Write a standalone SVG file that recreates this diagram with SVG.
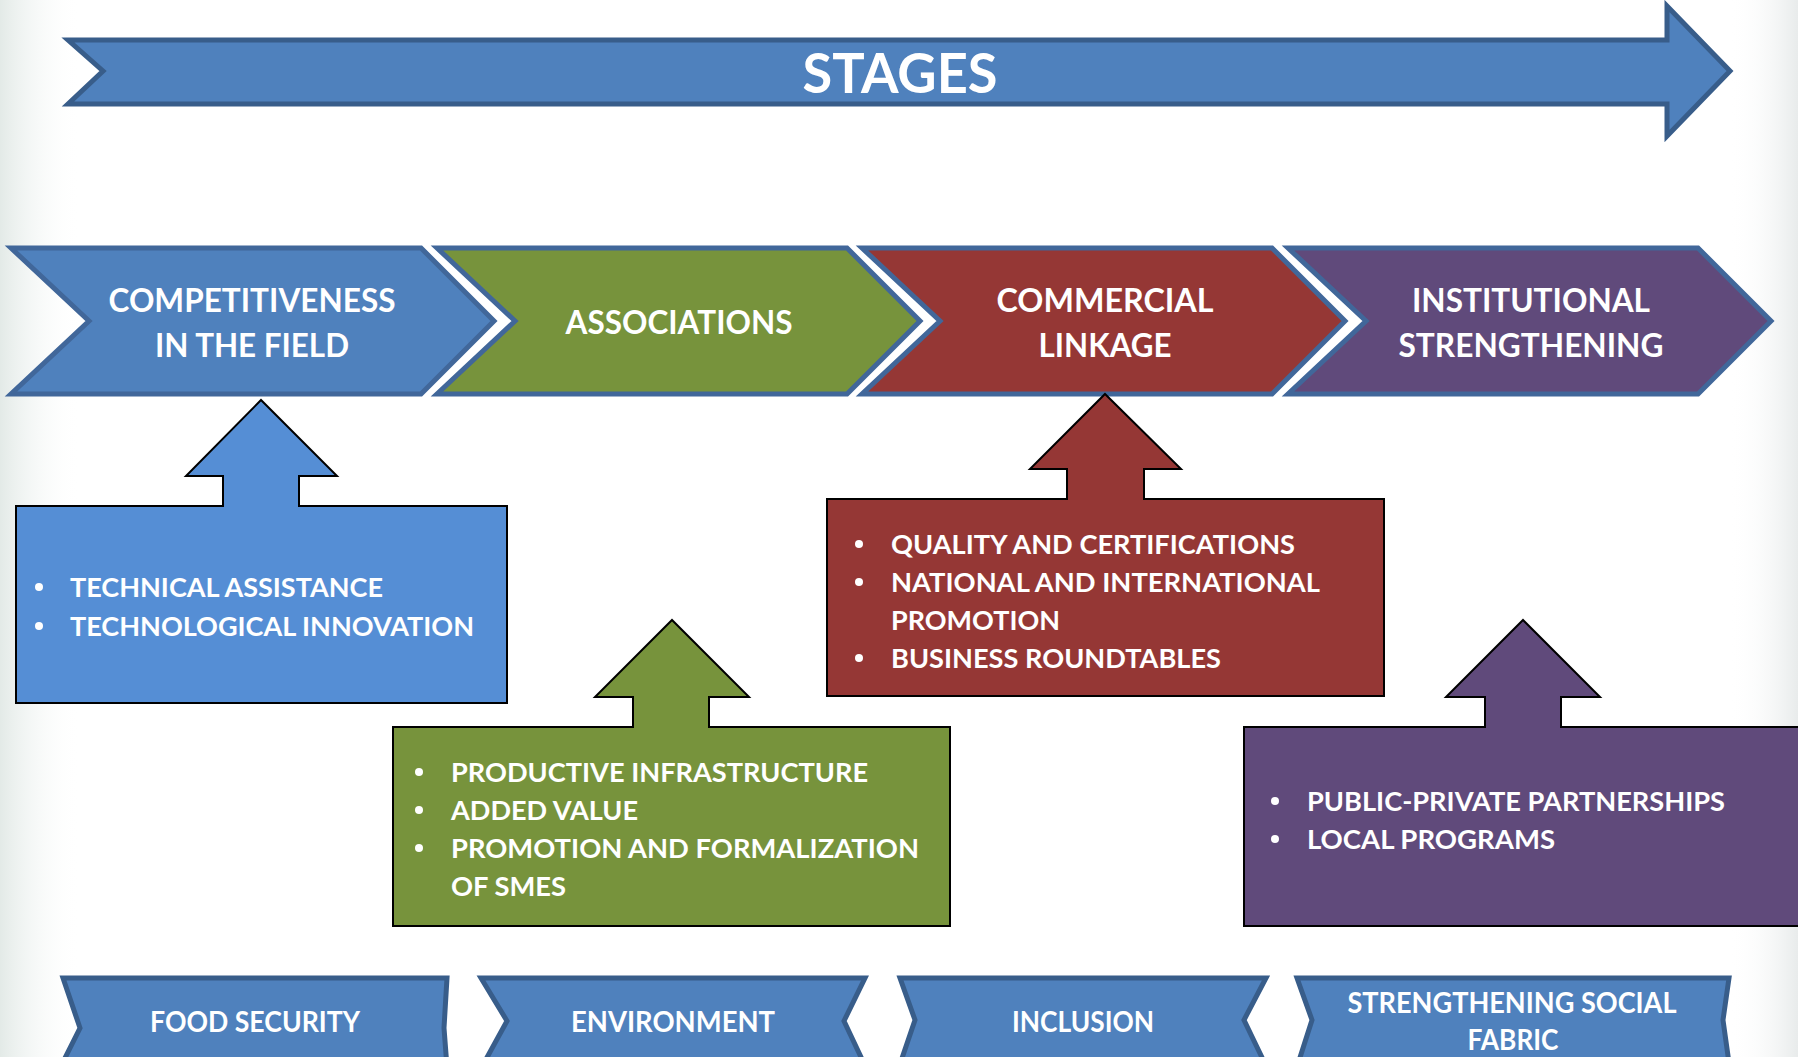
<svg xmlns="http://www.w3.org/2000/svg" width="1798" height="1057" viewBox="0 0 1798 1057">
  <defs>
    <linearGradient id="edgeLeft" x1="0" y1="0" x2="1" y2="0">
      <stop offset="0" stop-color="#e3eae7"/>
      <stop offset="1" stop-color="#ffffff" stop-opacity="0"/>
    </linearGradient>
    <linearGradient id="edgeRight" x1="0" y1="0" x2="1" y2="0">
      <stop offset="0" stop-color="#ffffff" stop-opacity="0"/>
      <stop offset="1" stop-color="#e8ebeb"/>
    </linearGradient>
    <style>
      text { font-family: Lato, "Liberation Sans", sans-serif; font-weight: bold; fill: #ffffff; }
      .title { font-size: 56px; text-anchor: middle; }
      .stage { font-size: 32px; text-anchor: middle; }
      .item { font-size: 27px; }
      .theme { font-size: 29px; text-anchor: middle; }
      .banner { fill: #4f81bd; stroke: #385d8a; stroke-width: 5; stroke-linejoin: miter; }
      .chev { stroke: #41679a; stroke-width: 5; stroke-linejoin: miter; }
      .callout { stroke: #000000; stroke-width: 2; stroke-linejoin: miter; }
      .bullet { fill: #ffffff; }
      .blue { fill: #4f81bd; }
      .green { fill: #77933c; }
      .red { fill: #953735; }
      .purple { fill: #604a7b; }
      .lblue { fill: #558ed5; }
    </style>
  </defs>

  <!-- page background with soft edges -->
  <rect x="0" y="0" width="1798" height="1057" fill="#ffffff"/>
  <rect x="0" y="0" width="80" height="1057" fill="url(#edgeLeft)"/>
  <rect x="1730" y="0" width="68" height="1057" fill="url(#edgeRight)"/>

  <!-- big header arrow -->
  <g id="stages">
    <polygon class="banner" points="68,40 1667,40 1667,6 1730,71 1667,136 1667,104 68,104 103,71"/>
    <text class="title" x="900" y="93" textLength="195" lengthAdjust="spacingAndGlyphs">STAGES</text>
  </g>

  <!-- stage chevrons -->
  <g id="stage-competitiveness">
    <polygon class="chev blue" points="11,248 421,248 494,321 421,394 11,394 89,321"/>
    <text class="stage" x="252" y="312" textLength="287" lengthAdjust="spacingAndGlyphs">COMPETITIVENESS</text>
    <text class="stage" x="252" y="357" textLength="194" lengthAdjust="spacingAndGlyphs">IN THE FIELD</text>
  </g>
  <g id="stage-associations">
    <polygon class="chev green" points="437,248 847,248 920,321 847,394 437,394 515,321"/>
    <text class="stage" x="679" y="334" textLength="227" lengthAdjust="spacingAndGlyphs">ASSOCIATIONS</text>
  </g>
  <g id="stage-commercial">
    <polygon class="chev red" points="862,248 1272,248 1345,321 1272,394 862,394 940,321"/>
    <text class="stage" x="1105" y="312" textLength="217" lengthAdjust="spacingAndGlyphs">COMMERCIAL</text>
    <text class="stage" x="1105" y="357" textLength="133" lengthAdjust="spacingAndGlyphs">LINKAGE</text>
  </g>
  <g id="stage-institutional">
    <polygon class="chev purple" points="1288,248 1698,248 1771,321 1698,394 1288,394 1366,321"/>
    <text class="stage" x="1531" y="312" textLength="238" lengthAdjust="spacingAndGlyphs">INSTITUTIONAL</text>
    <text class="stage" x="1531" y="357" textLength="265" lengthAdjust="spacingAndGlyphs">STRENGTHENING</text>
  </g>

  <!-- callout boxes pointing up to their stage -->
  <g id="callout-field">
    <path class="callout lblue" d="M16,506 L223,506 L223,476 L186,476 L261,400 L337,476 L299,476 L299,506 L507,506 L507,703 L16,703 Z"/>
    <circle class="bullet" cx="39" cy="587" r="4"/>
    <text class="item" x="70" y="597" textLength="313" lengthAdjust="spacingAndGlyphs">TECHNICAL ASSISTANCE</text>
    <circle class="bullet" cx="39" cy="626" r="4"/>
    <text class="item" x="70" y="636" textLength="404" lengthAdjust="spacingAndGlyphs">TECHNOLOGICAL INNOVATION</text>
  </g>
  <g id="callout-associations">
    <path class="callout green" d="M393,727 L633,727 L633,697 L595,697 L672,620 L749,697 L709,697 L709,727 L950,727 L950,926 L393,926 Z"/>
    <circle class="bullet" cx="419" cy="772" r="4"/>
    <text class="item" x="451" y="782" textLength="417" lengthAdjust="spacingAndGlyphs">PRODUCTIVE INFRASTRUCTURE</text>
    <circle class="bullet" cx="419" cy="810" r="4"/>
    <text class="item" x="451" y="820" textLength="187" lengthAdjust="spacingAndGlyphs">ADDED VALUE</text>
    <circle class="bullet" cx="419" cy="848" r="4"/>
    <text class="item" x="451" y="858" textLength="468" lengthAdjust="spacingAndGlyphs">PROMOTION AND FORMALIZATION</text>
    <text class="item" x="451" y="896" textLength="115" lengthAdjust="spacingAndGlyphs">OF SMES</text>
  </g>
  <g id="callout-commercial">
    <path class="callout red" d="M827,499 L1067,499 L1067,469 L1030,469 L1105,394 L1181,469 L1144,469 L1144,499 L1384,499 L1384,696 L827,696 Z"/>
    <circle class="bullet" cx="859" cy="544" r="4"/>
    <text class="item" x="891" y="554" textLength="404" lengthAdjust="spacingAndGlyphs">QUALITY AND CERTIFICATIONS</text>
    <circle class="bullet" cx="859" cy="582" r="4"/>
    <text class="item" x="891" y="592" textLength="429" lengthAdjust="spacingAndGlyphs">NATIONAL AND INTERNATIONAL</text>
    <text class="item" x="891" y="630" textLength="169" lengthAdjust="spacingAndGlyphs">PROMOTION</text>
    <circle class="bullet" cx="859" cy="658" r="4"/>
    <text class="item" x="891" y="668" textLength="330" lengthAdjust="spacingAndGlyphs">BUSINESS ROUNDTABLES</text>
  </g>
  <g id="callout-institutional">
    <path class="callout purple" d="M1244,727 L1485,727 L1485,697 L1446,697 L1523,620 L1600,697 L1561,697 L1561,727 L1810,727 L1810,926 L1244,926 Z"/>
    <circle class="bullet" cx="1275" cy="801" r="4"/>
    <text class="item" x="1307" y="811" textLength="418" lengthAdjust="spacingAndGlyphs">PUBLIC-PRIVATE PARTNERSHIPS</text>
    <circle class="bullet" cx="1275" cy="839" r="4"/>
    <text class="item" x="1307" y="849" textLength="248" lengthAdjust="spacingAndGlyphs">LOCAL PROGRAMS</text>
  </g>

  <!-- cross-cutting theme ribbons along the bottom -->
  <g id="theme-food">
    <polygon class="banner" points="63,978 447,978 444,1028 448,1080 54,1080 80,1028"/>
    <text class="theme" x="255" y="1032" textLength="210" lengthAdjust="spacingAndGlyphs">FOOD SECURITY</text>
  </g>
  <g id="theme-environment">
    <polygon class="banner" points="481,978 865,978 844,1021 868,1072 479,1072 507,1021"/>
    <text class="theme" x="673" y="1032" textLength="204" lengthAdjust="spacingAndGlyphs">ENVIRONMENT</text>
  </g>
  <g id="theme-inclusion">
    <polygon class="banner" points="900,978 1266,978 1244,1020 1268,1070 898,1070 915,1020"/>
    <text class="theme" x="1083" y="1032" textLength="142" lengthAdjust="spacingAndGlyphs">INCLUSION</text>
  </g>
  <g id="theme-social">
    <polygon class="banner" points="1297,978 1729,978 1723,1020 1730,1070 1296,1070 1312,1020"/>
    <text class="theme" x="1512" y="1013" textLength="329" lengthAdjust="spacingAndGlyphs">STRENGTHENING SOCIAL</text>
    <text class="theme" x="1513" y="1050" textLength="91" lengthAdjust="spacingAndGlyphs">FABRIC</text>
  </g>

  <!-- no separate connector lines: the arrows are part of each callout shape -->
  <g id="connectors"></g>
</svg>
